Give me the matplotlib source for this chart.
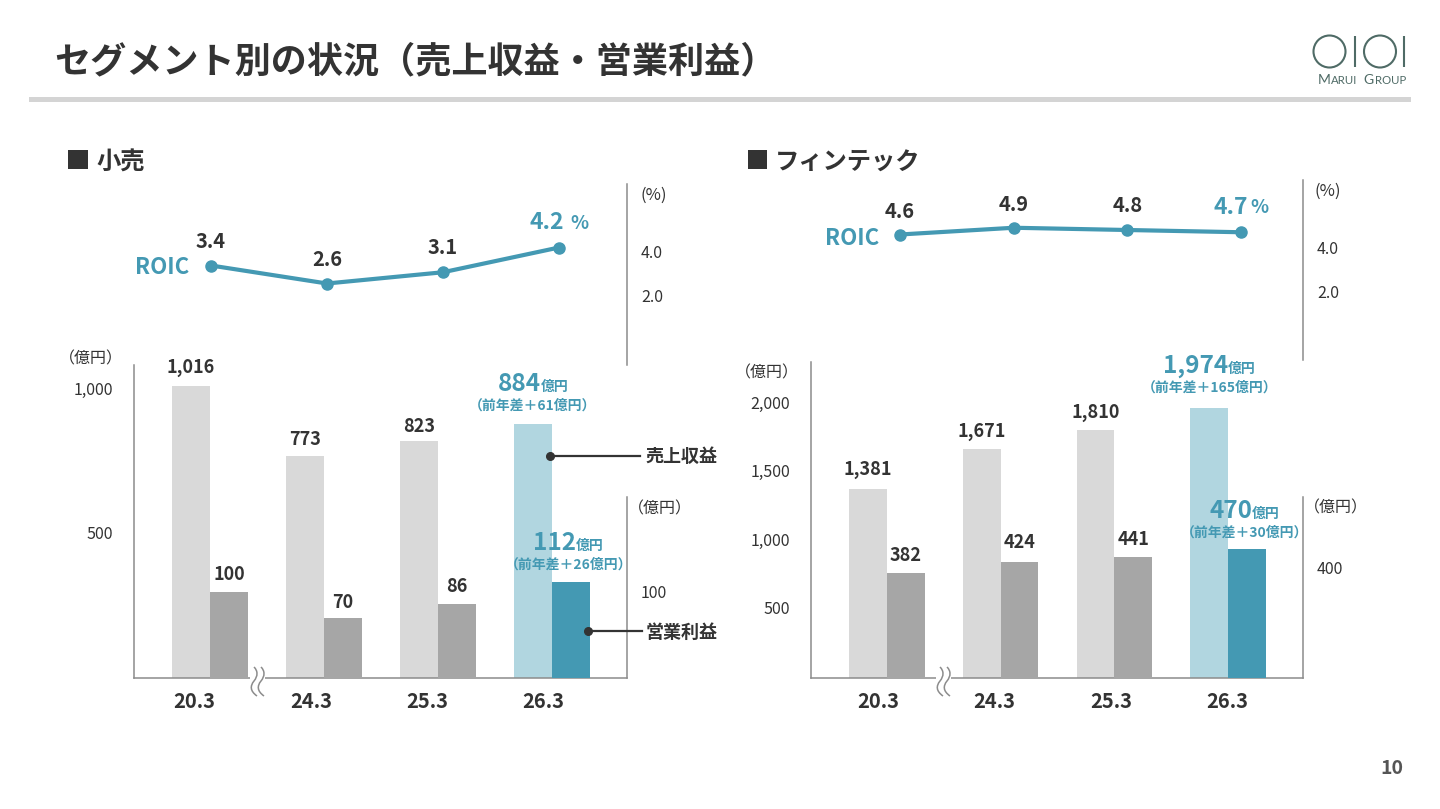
import matplotlib
matplotlib.use("Agg")
import matplotlib.pyplot as plt
from matplotlib.patches import Rectangle, Circle, PathPatch
from matplotlib.path import Path
from matplotlib.transforms import Affine2D

plt.rcParams['font.family'] = ['Noto Sans CJK JP', 'DejaVu Sans']

W, H = 1440, 809

# Data
categories = ["20.3", "24.3", "25.3", "26.3"]
retail_revenue = [1016, 773, 823, 884]
retail_profit = [100, 70, 86, 112]
retail_roic = [3.4, 2.6, 3.1, 4.2]
fintech_revenue = [1381, 1671, 1810, 1974]
fintech_profit = [382, 424, 441, 470]
fintech_roic = [4.6, 4.9, 4.8, 4.7]
roic_ticks = [2.0, 4.0]

TEAL = '#4499b3'
TEAL_LIGHT = '#b1d6e0'
GRAY_LIGHT = '#d9d9d9'
GRAY_DARK = '#a6a6a6'
AXIS = '#8c8c8c'
INK = '#333333'
LOGO = '#4f6b66'


def make_axes(fig, left, top, right, bottom):
    ax = fig.add_axes([left / W, 1 - bottom / H, (right - left) / W, (bottom - top) / H])
    ax.patch.set_alpha(0)
    return ax


def nudge_labels(ax, dy):
    for label in ax.get_yticklabels():
        label.set_transform(label.get_transform() + Affine2D().translate(0, dy))


def plot_panel(fig, p):
    x_left, x_right = p['x_left'], p['x_right']

    # bars
    ax = make_axes(fig, x_left, p['bar_top'], x_right, 678)
    step = p['bar_step']
    width = p['bar_w'] / step
    ax.set_xlim((x_left - p['bar_x0']) / step, (x_right - p['bar_x0']) / step)
    ax.set_ylim(0, (678 - p['bar_top']) / p['rev_scale'])
    xs = list(range(len(categories)))
    rev_colors = [GRAY_LIGHT, GRAY_LIGHT, GRAY_LIGHT, TEAL_LIGHT]
    ax.bar([x - width / 2 for x in xs], p['revenue'], width, color=rev_colors)
    for x, v, off in zip(xs[:3], p['revenue'][:3], p['rev_offsets']):
        ax.annotate(f"{v:,}", (x - width / 2, v), xytext=(0, off), textcoords='offset pixels',
                    ha='center', va='baseline', fontsize=13, fontweight='bold', color=INK)
    for s in ['top', 'right']:
        ax.spines[s].set_visible(False)
    for s in ['left', 'bottom']:
        ax.spines[s].set_color(AXIS)
        ax.spines[s].set_linewidth(1.1)
    ax.set_xticks([])
    ax.set_yticks(p['rev_ticks'], [f"{t:,}" for t in p['rev_ticks']])
    ax.tick_params(axis='y', length=0, pad=p['rev_pad'], labelsize=11.5, labelcolor=INK)
    nudge_labels(ax, 2)

    ax2 = ax.twinx()
    ax2.patch.set_alpha(0)
    ax2.set_ylim(0, (678 - p['bar_top']) / p['profit_scale'])
    prof_colors = [GRAY_DARK, GRAY_DARK, GRAY_DARK, TEAL]
    ax2.bar([x + width / 2 for x in xs], p['profit'], width, color=prof_colors)
    for x, v, off in zip(xs[:3], p['profit'][:3], p['profit_offsets']):
        ax2.annotate(f"{v:,}", (x + width / 2, v), xytext=(0, off), textcoords='offset pixels',
                     ha='center', va='baseline', fontsize=13, fontweight='bold', color=INK)
    for s in ['top', 'left', 'bottom']:
        ax2.spines[s].set_visible(False)
    ax2.spines['right'].set_color(AXIS)
    ax2.spines['right'].set_linewidth(1.1)
    ax2.spines['right'].set_bounds(0, (678 - 497) / p['profit_scale'])
    ax2.set_yticks(p['profit_ticks'], [str(t) for t in p['profit_ticks']])
    ax2.tick_params(axis='y', length=0, pad=p['profit_pad'], labelsize=11.5, labelcolor=INK)
    nudge_labels(ax2, 1)

    # ROIC line
    rx = make_axes(fig, x_left, p['roic_top'], x_right, p['roic_bottom'])
    r_step = p['roic_step']
    rx.set_xlim((x_left - p['roic_x0']) / r_step, (x_right - p['roic_x0']) / r_step)
    rx.set_ylim((p['roic_zero'] - p['roic_bottom']) / 22.5, (p['roic_zero'] - p['roic_top']) / 22.5)
    rx.plot(xs, p['roic'], color=TEAL, lw=3, marker='o', ms=8, solid_capstyle='round', clip_on=False)
    for s in ['top', 'left', 'bottom']:
        rx.spines[s].set_visible(False)
    rx.spines['right'].set_color(AXIS)
    rx.spines['right'].set_linewidth(1.1)
    rx.yaxis.tick_right()
    rx.set_xticks([])
    rx.set_yticks(roic_ticks, [f"{t:.1f}" for t in roic_ticks])
    rx.tick_params(axis='y', length=0, pad=p['profit_pad'], labelsize=11.5, labelcolor=INK)
    nudge_labels(rx, 1)
    for x, v, (dx, dy), lab in zip(xs, p['roic'], p['roic_offsets'], p['roic_labels']):
        hl = x == xs[-1]
        rx.annotate(lab, (x, v), xytext=(dx, dy), textcoords='offset pixels', ha='center', va='center',
                    fontsize=16.5 if hl else 14.5, fontweight='bold', color=TEAL if hl else INK)


def squiggle(ov, x0):
    ov.add_patch(Rectangle((x0 - 4, 675), 15, 6, fc='white', ec='none', zorder=3))
    for dx in (0, 7):
        x = x0 + dx
        verts = [(x, 667), (x + 4, 671), (x + 4, 676), (x, 681),
                 (x - 4, 686), (x - 4, 691), (x + 3, 696)]
        codes = [Path.MOVETO] + [Path.CURVE4] * 6
        ov.add_patch(PathPatch(Path(verts, codes), fc='none', ec='#8c8c8c', lw=1.1, zorder=4))


def px_text(ov, x, y, s, size, color=INK, weight='normal', ha='left', **kw):
    ov.text(x, y, s, fontsize=size, color=color, fontweight=weight, ha=ha, va='center', **kw)


def leader(ov, x0, x1, y):
    ov.plot([x0, x1], [y, y], color=INK, lw=1.6, zorder=5)
    ov.plot([x0], [y], 'o', color=INK, ms=5.5, zorder=6)


def highlight(ov, x, y, num, sub_x, sub_y, sub):
    px_text(ov, x, y + 2, num, 17.5, TEAL, 'bold', ha='right')
    px_text(ov, x, y + 5, "億円", 10, TEAL, 'bold')
    px_text(ov, sub_x, sub_y + 1, sub, 10, TEAL, 'bold', ha='center')


def draw_logo(ov):
    for cx in (1329.5, 1380):
        ov.add_patch(Circle((cx, 51.5), 16, fc='none', ec=LOGO, lw=1.5))
    for x in (1355, 1404):
        ov.plot([x, x], [36, 67], color=LOGO, lw=1.5, solid_capstyle='butt')
    for x, s, size in [(1318, "M", 10), (1331, "ARUI", 8.2), (1363, "G", 10), (1375, "ROUP", 8.2)]:
        ov.text(x, 84, s, fontsize=size, color=LOGO, family='Lato', ha='left', va='baseline')


def main():
    fig = plt.figure(figsize=(W / 100, H / 100), dpi=100, facecolor='white')

    plot_panel(fig, dict(
        x_left=134, x_right=627, bar_top=365, bar_x0=210, bar_step=114, bar_w=38,
        revenue=retail_revenue, profit=retail_profit, roic=retail_roic,
        rev_scale=0.2874, profit_scale=0.86, rev_ticks=[500, 1000], profit_ticks=[100],
        rev_pad=15, profit_pad=10,
        rev_offsets=[13, 11, 9], profit_offsets=[12, 10, 12],
        roic_top=184, roic_bottom=365, roic_zero=342, roic_x0=211, roic_step=116,
        roic_offsets=[(0, 24), (0, 24), (0, 25), (-12, 25)],
        roic_labels=["3.4", "2.6", "3.1", "4.2"],
    ))
    plot_panel(fig, dict(
        x_left=811, x_right=1303, bar_top=362, bar_x0=887, bar_step=113.67, bar_w=37.8,
        revenue=fintech_revenue, profit=fintech_profit, roic=fintech_roic,
        rev_scale=0.137, profit_scale=0.2745, rev_ticks=[500, 1000, 1500, 2000], profit_ticks=[400],
        rev_pad=15, profit_pad=10,
        rev_offsets=[14, 12, 12], profit_offsets=[12, 14, 12],
        roic_top=180, roic_bottom=360, roic_zero=338, roic_x0=900, roic_step=113.67,
        roic_offsets=[(0, 23), (0, 23), (0, 25), (-10, 25)],
        roic_labels=["4.6", "4.9", "4.8", "4.7"],
    ))

    # pixel overlay for page furniture and callouts
    ov = fig.add_axes([0, 0, 1, 1])
    ov.set_xlim(0, W)
    ov.set_ylim(H, 0)
    ov.axis('off')
    ov.patch.set_alpha(0)

    px_text(ov, 54, 62, "セグメント別の状況（売上収益・営業利益）", 26, weight='bold')
    ov.add_patch(Rectangle((29, 97), 1382, 5, fc='#d4d4d4', ec='none'))
    draw_logo(ov)

    ov.add_patch(Rectangle((68, 150), 20, 19, fc=INK, ec='none'))
    px_text(ov, 96, 163, "小売", 17.5, weight='bold')
    ov.add_patch(Rectangle((748, 150), 19, 19, fc=INK, ec='none'))
    px_text(ov, 775, 163, "フィンテック", 17.5, weight='bold')

    px_text(ov, 59, 359, "（億円）", 11.5)
    px_text(ov, 735, 373, "（億円）", 11.5)
    px_text(ov, 628, 509, "（億円）", 11.5)
    px_text(ov, 1304, 508, "（億円）", 11.5)
    px_text(ov, 640, 195, "(%)", 12)
    px_text(ov, 1314, 191, "(%)", 12)

    px_text(ov, 135, 268, "ROIC", 16, TEAL, 'bold')
    px_text(ov, 825, 238, "ROIC", 16, TEAL, 'bold')
    px_text(ov, 570, 223, "%", 13.5, TEAL, 'bold')
    px_text(ov, 1250, 207, "%", 13.5, TEAL, 'bold')

    highlight(ov, 541, 382, "884", 533, 405, "（前年差＋61億円）")
    highlight(ov, 576, 541, "112", 569, 564, "（前年差＋26億円）")
    highlight(ov, 1228, 364, "1,974", 1210, 387, "（前年差＋165億円）")
    highlight(ov, 1252, 509, "470", 1244, 532, "（前年差＋30億円）")

    leader(ov, 550, 640, 455.5)
    px_text(ov, 645, 456, "売上収益", 13, weight='bold')
    leader(ov, 588, 642, 631)
    px_text(ov, 646, 632, "営業利益", 13, weight='bold')

    for x, c in zip([194, 311, 427, 543], categories):
        px_text(ov, x, 702, c, 14.5, weight='bold', ha='center')
    for x, c in zip([878, 994, 1111, 1227], categories):
        px_text(ov, x, 702, c, 14.5, weight='bold', ha='center')

    squiggle(ov, 254)
    squiggle(ov, 940)

    px_text(ov, 1392, 769, "10", 14, '#555555', 'bold', ha='center')

    fig.savefig('out.png', dpi=100, facecolor='white')
    plt.close(fig)


if __name__ == "__main__":
    main()
